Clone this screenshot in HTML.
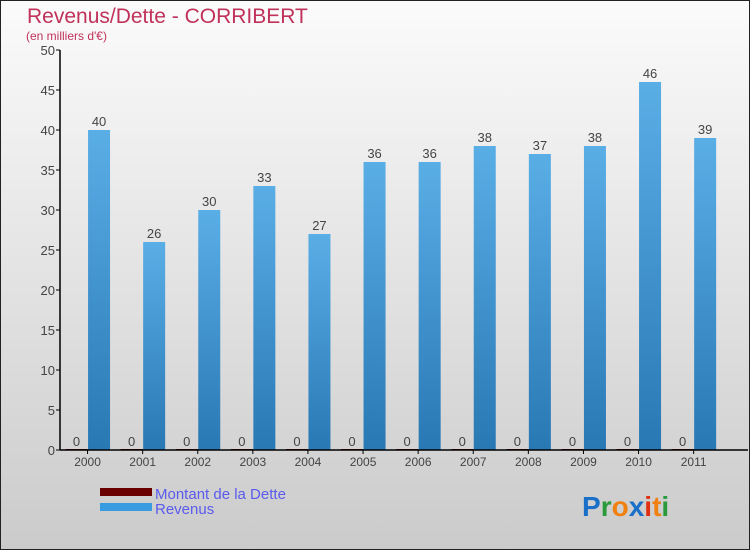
<!DOCTYPE html>
<html><head><meta charset="utf-8"><style>
body{margin:0;}
#c{width:748px;height:548px;border:1px solid #222;background:linear-gradient(#fbfbfb,#cbcbcb);position:relative;overflow:hidden;font-family:"Liberation Sans",sans-serif;}
</style></head><body>
<div id="c">
<svg id="s" width="748" height="548" style="position:absolute;left:-1px;top:-1px">
<defs><linearGradient id="g" x1="0" y1="0" x2="0" y2="1"><stop offset="0" stop-color="#5aaee6"/><stop offset="1" stop-color="#2878b4"/></linearGradient></defs>
<text x="27" y="23" font-size="21" fill="#c0325a">Revenus/Dette - CORRIBERT</text>
<text x="26" y="40" font-size="12" fill="#c0325a">(en milliers d'€)</text>
<g id="plot"></g>
<rect x="100" y="488" width="52" height="8" fill="#6b0000"/>
<rect x="100" y="503" width="52" height="8" fill="#3a9ce0"/>
<text x="155" y="499" font-size="15" fill="#5a5aee">Montant de la Dette</text>
<text x="155" y="514" font-size="15" fill="#5a5aee">Revenus</text>
<text x="582" y="516" font-size="28" font-weight="bold"><tspan fill="#1a70c8">P</tspan><tspan fill="#2a9a3a">r</tspan><tspan fill="#f08010">o</tspan><tspan fill="#1a70c8">x</tspan><tspan fill="#e03010">i</tspan><tspan fill="#f08010">t</tspan><tspan fill="#2a9a3a">i</tspan></text>
</svg>
</div>
<script>
const years=["2000","2001","2002","2003","2004","2005","2006","2007","2008","2009","2010","2011"];
const revenus=[40,26,30,33,27,36,36,38,37,38,46,39];
const dette=[0,0,0,0,0,0,0,0,0,0,0,0];
const yTicks=[0,5,10,15,20,25,30,35,40,45,50];
const NS="http://www.w3.org/2000/svg";
const g=document.getElementById('plot');
const x0=60,x1=748,bw=55.1,yb=450,yt=50,ymax=50;
const y=v=>yb-(v/ymax)*(yb-yt);
const xc=i=>x0+bw*(i+0.5);
function mk(t,a){const e=document.createElementNS(NS,t);for(const k in a)e.setAttribute(k,a[k]);g.appendChild(e);return e;}
yTicks.forEach(v=>{
 const l=mk('line',{x1:x0-4,x2:x0,y1:y(v),y2:y(v),stroke:'#000'});
 
 
 const t=mk('text',{x:x0-5,y:y(v)+5,'text-anchor':'end','font-size':13,fill:'#444'});t.textContent=v;
 
 
});
years.forEach((yr,i)=>{
 const c=xc(i);
 const rv=mk('rect',{x:c+0.5,y:y(revenus[i]),width:22,height:yb-y(revenus[i]),fill:'url(#g)'});
 
 
 const dh=Math.max(1,yb-y(dette[i]));
 const db=mk('rect',{x:c-22,y:yb-dh,width:22,height:dh,fill:'#6b0000'});
 
 
 const t1=mk('text',{x:c+11.5,y:y(revenus[i])-4,'text-anchor':'middle','font-size':13,fill:'#444'});t1.textContent=revenus[i];
 
 
 const t2=mk('text',{x:c-11,y:y(dette[i])-4,'text-anchor':'middle','font-size':13,fill:'#444'});t2.textContent=dette[i];
 
 
 const tk=mk('line',{x1:c,x2:c,y1:yb,y2:yb+4,stroke:'#000'});
 
 
 const xl=mk('text',{x:c,y:yb+16,'text-anchor':'middle','font-size':12,fill:'#444'});xl.textContent=yr;
 
 
});
const ya=mk('line',{x1:x0,x2:x0,y1:yt,y2:yb,stroke:'#000','stroke-width':1.5});


const xa=mk('line',{x1:x0,x2:x1,y1:yb,y2:yb,stroke:'#000','stroke-width':1.5});


</script>
</body></html>
